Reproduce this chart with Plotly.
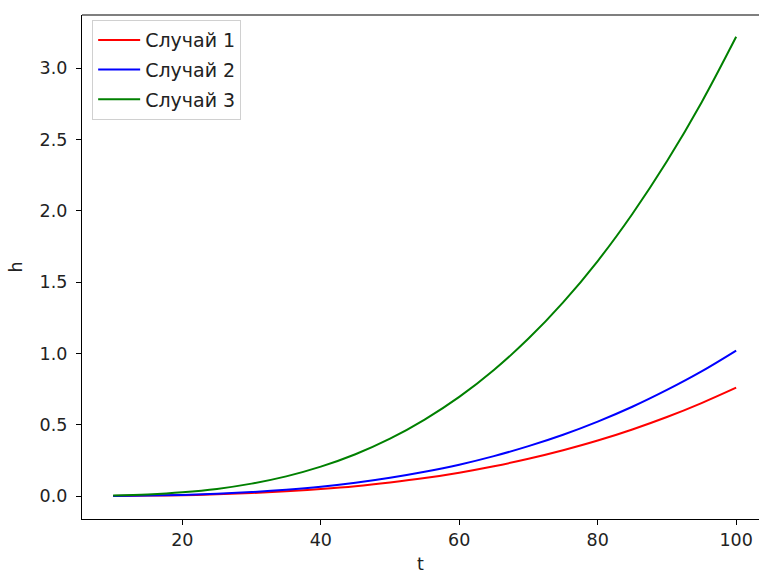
import plotly.graph_objects as go

t = [10, 15, 20, 25, 30, 35, 40, 45, 50, 55, 60, 65, 70, 75, 80, 85, 90, 95, 100]
case1 = [0.001, 0.003, 0.006, 0.012, 0.021, 0.033, 0.049, 0.069, 0.095, 0.126, 0.164,
         0.209, 0.261, 0.321, 0.389, 0.467, 0.554, 0.652, 0.76]
case2 = [0.001, 0.003, 0.008, 0.016, 0.028, 0.044, 0.065, 0.093, 0.128, 0.170, 0.220,
         0.280, 0.350, 0.430, 0.522, 0.626, 0.744, 0.874, 1.02]
case3 = [0.003, 0.011, 0.026, 0.050, 0.087, 0.138, 0.206, 0.293, 0.402, 0.536, 0.695,
         0.884, 1.104, 1.358, 1.648, 1.978, 2.347, 2.760, 3.22]
names = ["Случай 1", "Случай 2", "Случай 3"]
colors = ["#ff0000", "#0000ff", "#008000"]

font = "DejaVu Sans"
fs = 17.5
fig = go.Figure()
for i, (name, ys, c) in enumerate(zip(names, [case1, case2, case3], colors)):
    fig.add_trace(go.Scatter(x=t, y=ys, mode="lines", name=name, legendgroup=f"g{i}",
                             line=dict(color=c, width=2, shape="spline")))

axis_common = dict(showgrid=False, zeroline=False, showline=True, linecolor="black",
                   linewidth=1.2, ticks="outside", ticklen=5, tickcolor="black",
                   automargin=False,
                   tickfont=dict(family=font, size=fs, color="#222"))
fig.update_xaxes(range=[5.5, 103.3], tickvals=[20, 40, 60, 80, 100], mirror=False,
                 title=dict(text="t", font=dict(family=font, size=fs, color="#222"), standoff=14),
                 **axis_common)
fig.update_yaxes(range=[-0.161, 3.373], tickvals=[0, 0.5, 1, 1.5, 2, 2.5, 3],
                 ticktext=["0.0", "0.5", "1.0", "1.5", "2.0", "2.5", "3.0"], mirror=False,
                 ticklabelstandoff=5,
                 title=dict(text="h", font=dict(family=font, size=fs, color="#222"), standoff=12),
                 **axis_common)
# top spine
fig.add_shape(type="line", xref="paper", yref="paper", x0=0, x1=1, y0=1, y1=1,
              line=dict(color="black", width=1.2))

fig.update_layout(
    width=759, height=574,
    margin=dict(l=82, r=0, t=15, b=55),
    plot_bgcolor="white", paper_bgcolor="white",
    font=dict(family=font, size=fs, color="#222"),
    legend=dict(x=0.015, y=0.99, xanchor="left", yanchor="top",
                traceorder="grouped", tracegroupgap=2, itemwidth=42,
                bgcolor="rgba(255,255,255,0.8)", bordercolor="#d0d0d0", borderwidth=1,
                font=dict(family=font, size=19, color="#222")),
)
fig.write_html("out.html")
